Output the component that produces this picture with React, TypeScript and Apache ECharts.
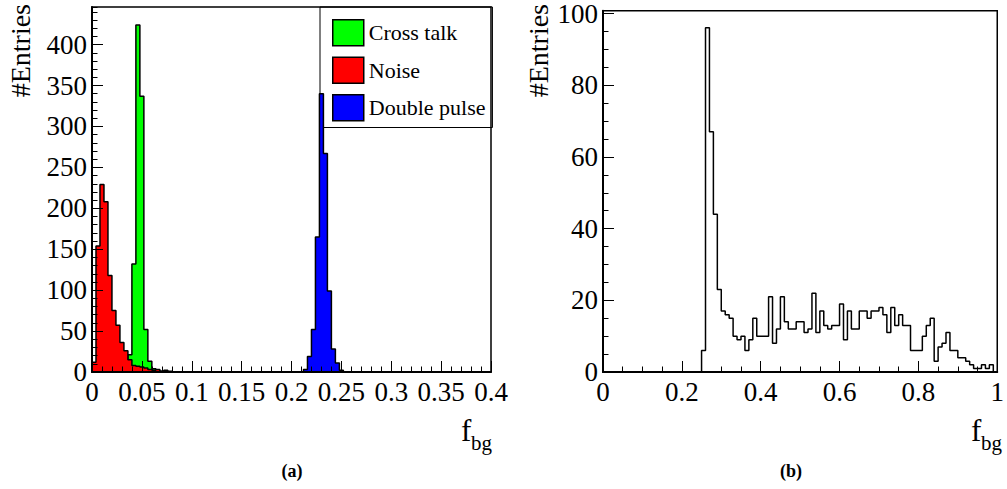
import React, { useEffect, useRef } from "react";
import * as echarts from "echarts";

const serif = "Liberation Serif";

// Panel (a): 100 bins of width 0.004 on [0, 0.4]
const binWidthA = 0.004;
const noiseStartBin = 0;
const noiseCounts = [12, 154, 229, 208, 118, 75, 57, 36, 26, 15, 8, 7, 6, 5, 3, 2, 3, 1, 2, 1];
const crossTalkStartBin = 6;
const crossTalkCounts = [2, 3, 5, 21, 132, 424, 337, 52, 13, 4, 2, 1, 1];
const doublePulseStartBin = 53;
const doublePulseCounts = [3, 19, 52, 165, 340, 267, 99, 28, 11, 2];

// Panel (b): 100 bins of width 0.01 on [0, 1]
const binWidthB = 0.01;
const fbgStartBin = 25;
const fbgCounts = [
  6, 96, 67, 44, 23, 17, 16, 15, 10, 9, 10, 6, 9, 15, 10, 10, 10, 21, 8, 12, 21, 14, 12, 12, 14, 14, 11,
  12, 22, 11, 17, 13, 12, 13, 13, 19, 9, 17, 12, 12, 17, 17, 15, 17, 17, 18, 16, 11, 18, 13, 16, 13, 13,
  6, 6, 6, 10, 13, 15, 3, 7, 8, 11, 6, 6, 4, 4, 3, 2, 1, 1, 2, 1, 2, 0,
];

// Axis ranges
const xMaxA = 0.4;
const yMaxA = 446;
const xMaxB = 1;
const yMaxB = 100.8;

// Turn bin contents into the outline points of a step histogram
function histPoints(startBin: number, counts: number[], width: number): number[][] {
  const pts: number[][] = [[startBin * width, 0]];
  counts.forEach((c, i) => pts.push([(startBin + i) * width, c]));
  const end = (startBin + counts.length) * width;
  pts.push([end, counts[counts.length - 1]]);
  pts.push([end, 0]);
  return pts;
}

function xAxisFor(gridIndex: number, max: number, interval: number, minorSplit: number) {
  return {
    type: "value",
    gridIndex,
    min: 0,
    max,
    interval,
    z: 5,
    axisLine: { show: true, onZero: false, lineStyle: { color: "#000", width: 2 } },
    axisTick: { show: true, inside: true, length: 11, lineStyle: { color: "#000", width: 1 } },
    minorTick: { show: true, splitNumber: minorSplit, length: 5.5, lineStyle: { color: "#000", width: 1 } },
    splitLine: { show: false },
    axisLabel: {
      show: true,
      color: "#000",
      fontSize: 27,
      fontFamily: serif,
      margin: 6,
      hideOverlap: false,
      formatter: (v: number) => String(+(+v).toFixed(3)),
    },
  };
}

function yAxesFor(gridIndex: number, max: number, interval: number, minorInterval: number) {
  return [
    {
      type: "value",
      gridIndex,
      position: "left",
      min: 0,
      max,
      interval,
      z: 5,
      axisLine: { show: true, lineStyle: { color: "#000", width: 2 } },
      axisTick: { show: true, inside: true, length: 11, lineStyle: { color: "#000", width: 1 } },
      splitLine: { show: false },
      axisLabel: {
        show: true,
        color: "#000",
        fontSize: 27,
        fontFamily: serif,
        margin: 5,
        showMaxLabel: false,
      },
    },
    {
      type: "value",
      gridIndex,
      position: "left",
      offset: 0,
      min: 0,
      max,
      interval: minorInterval,
      z: 5,
      axisLine: { show: false },
      axisTick: { show: true, inside: true, length: 5.5, lineStyle: { color: "#000", width: 1 } },
      splitLine: { show: false },
      axisLabel: { show: false },
    },
  ];
}

function filledHist(name: string, color: string, startBin: number, counts: number[], z: number) {
  return {
    type: "line",
    name,
    xAxisIndex: 0,
    yAxisIndex: 0,
    step: "end",
    symbol: "none",
    data: histPoints(startBin, counts, binWidthA),
    lineStyle: { color: "#000", width: 1.5 },
    itemStyle: { color },
    areaStyle: { color, opacity: 1 },
    z,
  };
}

function texts() {
  const entries = (x: number) => ({
    type: "text",
    x,
    y: 4,
    rotation: Math.PI / 2,
    style: { text: "#Entries", fontSize: 28, fontFamily: serif, fill: "#000", align: "right", verticalAlign: "middle" },
  });
  const fbg = (x: number) => [
    { type: "text", x, y: 415, style: { text: "f", fontSize: 31, fontFamily: serif, fill: "#000", align: "left", verticalAlign: "top" } },
    { type: "text", x: x + 10, y: 432, style: { text: "bg", fontSize: 21, fontFamily: serif, fill: "#000", align: "left", verticalAlign: "top" } },
  ];
  const caption = (x: number, t: string) => ({
    type: "text",
    x,
    y: 471,
    style: { text: t, fontSize: 18, fontWeight: "bold", fontFamily: serif, fill: "#000", align: "center", verticalAlign: "middle" },
  });
  return [entries(20), entries(538), ...fbg(461), ...fbg(971), caption(292, "(a)"), caption(791, "(b)")];
}

export default function App() {
  const ref = useRef<HTMLDivElement>(null);

  useEffect(() => {
    if (!ref.current) return;
    const chart = echarts.init(ref.current, undefined, { renderer: "svg" });
    const option = {
      animation: false,
      backgroundColor: "#fff",
      textStyle: { fontFamily: serif, color: "#000" },
      grid: [
        { left: 92, top: 7, width: 399, height: 365, show: true, borderColor: "#000", borderWidth: 1.5, backgroundColor: "transparent" },
        { left: 603, top: 7, width: 400, height: 365, show: true, borderColor: "#000", borderWidth: 1.5, backgroundColor: "transparent" },
      ],
      xAxis: [xAxisFor(0, xMaxA, 0.05, 5), xAxisFor(1, xMaxB, 0.2, 4)],
      yAxis: [...yAxesFor(0, yMaxA, 50, 10), ...yAxesFor(1, yMaxB, 20, 5)],
      legend: {
        show: true,
        orient: "vertical",
        left: 320,
        top: 7,
        padding: [12, 7, 6, 12],
        itemGap: 10,
        itemWidth: 31,
        itemHeight: 26,
        backgroundColor: "transparent",
        borderColor: "#000",
        borderWidth: 1,
        selectedMode: false,
        textStyle: { fontSize: 22, fontFamily: serif, color: "#000" },
        data: [
          { name: "Cross talk", icon: "rect", itemStyle: { color: "#00ff00", borderColor: "#000", borderWidth: 1.5 } },
          { name: "Noise", icon: "rect", itemStyle: { color: "#ff0000", borderColor: "#000", borderWidth: 1.5 } },
          { name: "Double pulse", icon: "rect", itemStyle: { color: "#0000ff", borderColor: "#000", borderWidth: 1.5 } },
        ],
      },
      series: [
        filledHist("Cross talk", "#00ff00", crossTalkStartBin, crossTalkCounts, 2),
        filledHist("Noise", "#ff0000", noiseStartBin, noiseCounts, 3),
        filledHist("Double pulse", "#0000ff", doublePulseStartBin, doublePulseCounts, 4),
        {
          type: "line",
          name: "f_bg",
          xAxisIndex: 1,
          yAxisIndex: 2,
          step: "end",
          symbol: "none",
          data: histPoints(fbgStartBin, fbgCounts, binWidthB),
          lineStyle: { color: "#000", width: 1.5 },
          itemStyle: { color: "#000" },
          z: 2,
        },
      ],
      graphic: texts(),
    };
    chart.setOption(option as any);
    return () => chart.dispose();
  }, []);

  return (
    <div
      ref={ref}
      style={{ position: "fixed", left: 0, top: 0, width: 1007, height: 489, background: "#fff" }}
    />
  );
}
